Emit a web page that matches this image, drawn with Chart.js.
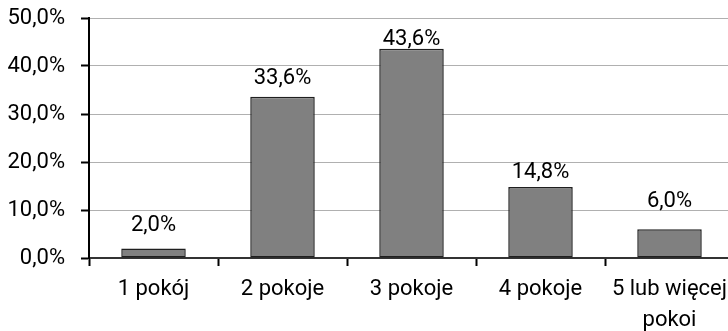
<!DOCTYPE html>
<html>
<head>
<meta charset="utf-8">
<script src="https://cdn.jsdelivr.net/npm/chart.js@4.4.1/dist/chart.umd.min.js"></script>
<style>
  html, body { margin: 0; padding: 0; background: #fff; }
  #wrap { width: 728px; height: 331px; overflow: hidden; position: relative; }
  canvas { display: block; }
</style>
</head>
<body>
<div id="wrap"><canvas id="chart" width="742" height="331"></canvas></div>
<script>
// Share of dwellings by number of rooms
const categories = ['1 pokój', '2 pokoje', '3 pokoje', '4 pokoje', ['5 lub więcej', 'pokoi']];
const shares = [2.0, 33.6, 43.6, 14.8, 6.0];
const yTickLabels = ['0,0%', '10,0%', '20,0%', '30,0%', '40,0%', '50,0%'];
// distance (px) from the top of each bar to its value label's baseline
const labelGap = [17, 13, 4, 9, 22];

const FONT = 'Roboto, "Noto Sans", sans-serif';
const fmt = v => v.toFixed(1).replace('.', ',') + '%';

const valueLabels = {
  id: 'valueLabels',
  afterDatasetsDraw(chart) {
    const ctx = chart.ctx;
    const meta = chart.getDatasetMeta(0);
    ctx.save();
    ctx.font = '22px ' + FONT;
    ctx.fillStyle = '#000';
    ctx.textAlign = 'center';
    ctx.textBaseline = 'alphabetic';
    meta.data.forEach((bar, i) => {
      ctx.fillText(fmt(shares[i]), bar.x, bar.y - labelGap[i]);
    });
    ctx.restore();
  }
};

new Chart(document.getElementById('chart'), {
  type: 'bar',
  data: {
    labels: categories,
    datasets: [{
      data: shares,
      backgroundColor: '#808080',
      borderColor: '#1f1f1f',
      borderWidth: 1.5,
      borderSkipped: false,
      categoryPercentage: 1,
      barPercentage: 0.5
    }]
  },
  options: {
    responsive: false,
    devicePixelRatio: 1,
    animation: false,
    layout: { padding: { top: 18, right: 8, left: 0, bottom: 0 } },
    plugins: { legend: { display: false }, tooltip: { enabled: false } },
    scales: {
      x: {
        z: 1,
        afterFit(scale) { scale.height = 73; },
        grid: {
          offset: true,
          drawOnChartArea: false,
          drawTicks: true,
          tickLength: 8,
          tickColor: '#000',
          tickWidth: 2
        },
        border: { color: '#333', width: 2 },
        ticks: {
          color: '#000',
          padding: 8,
          font: { family: FONT, size: 22, lineHeight: 1.41 },
          maxRotation: 0,
          autoSkip: false
        }
      },
      y: {
        min: 0,
        max: 50,
        afterFit(scale) {
          scale.width = 89;
          scale.paddingTop = 0;
          scale.paddingBottom = 0;
        },
        afterBuildTicks(scale) {
          scale.ticks = yTickLabels.map((_, i) => ({ value: i * 10 }));
        },
        grid: {
          color: c => (c.tick && c.tick.value === 0) ? 'rgba(0,0,0,0)' : '#b0b0b0',
          lineWidth: 1,
          drawTicks: true,
          tickLength: 8,
          tickColor: '#000',
          tickWidth: 2
        },
        border: { color: '#000', width: 2 },
        ticks: {
          color: '#000',
          padding: 16,
          font: { family: FONT, size: 22 },
          callback: (v, i) => yTickLabels[i]
        }
      }
    }
  },
  plugins: [valueLabels]
});
</script>
</body>
</html>
